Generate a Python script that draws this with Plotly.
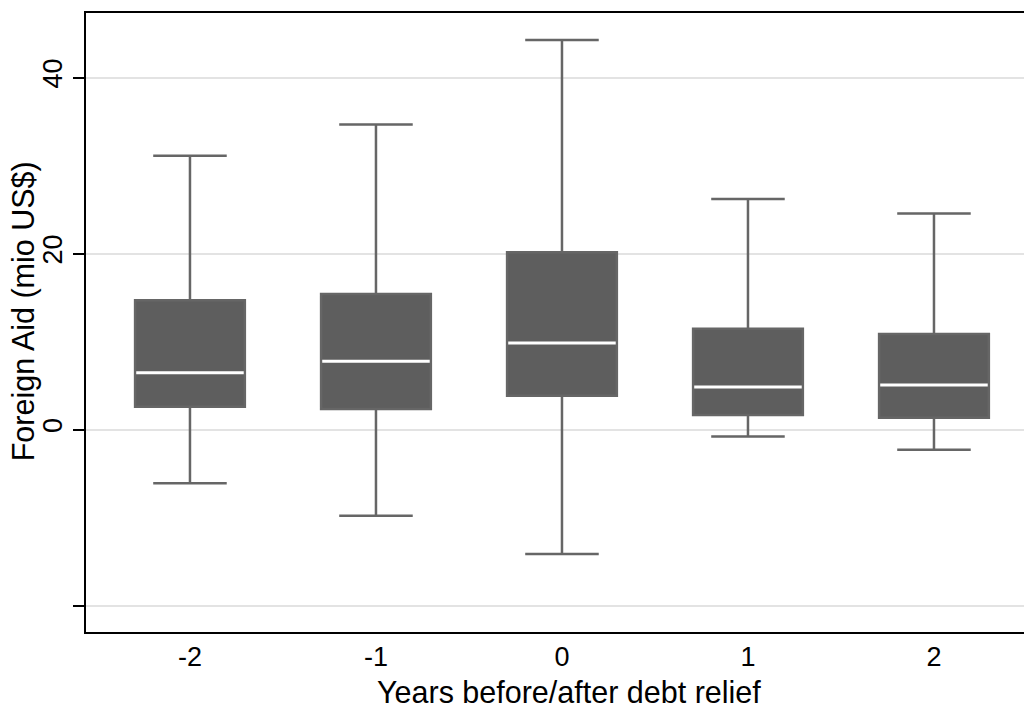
import plotly.graph_objects as go

# Foreign aid distribution around the debt relief year
years = [-2, -1, 0, 1, 2]
lower_whisker = [-6.1, -9.8, -14.15, -0.8, -2.3]
q1 = [2.6, 2.35, 3.85, 1.65, 1.35]
median = [6.45, 7.75, 9.85, 4.85, 5.05]
q3 = [14.7, 15.4, 20.15, 11.45, 10.85]
upper_whisker = [31.1, 34.65, 44.25, 26.2, 24.55]

y_ticks = [-20, 0, 20, 40]
y_tick_labels = ["", "0", "20", "40"]

x_title = "Years before/after debt relief"
y_title = "Foreign Aid (mio US$)"

FONT = "Liberation Sans, Arial, Helvetica, sans-serif"
BOX_W = 0.59

fig = go.Figure()

# Boxes with whiskers
fig.add_trace(go.Box(
    x=years, q1=q1, median=median, q3=q3,
    lowerfence=lower_whisker, upperfence=upper_whisker,
    width=BOX_W, whiskerwidth=0.67,
    fillcolor="#5e5e5e",
    line=dict(color="#666666", width=2.5),
    boxpoints=False, hoverinfo="skip", showlegend=False,
))

# White median bars drawn on top of each box
fig.add_trace(go.Box(
    x=years, q1=median, median=median, q3=median,
    lowerfence=median, upperfence=median,
    width=BOX_W - 0.012, whiskerwidth=0,
    fillcolor="white",
    line=dict(color="white", width=3),
    boxpoints=False, hoverinfo="skip", showlegend=False,
))

# Axis titles placed as annotations relative to the plot area
fig.add_annotation(text=x_title, xref="paper", yref="paper",
                   x=0.515, y=-0.097, xanchor="center", yanchor="middle",
                   showarrow=False, font=dict(size=30.5))
fig.add_annotation(text=y_title, xref="paper", yref="paper",
                   x=-0.0672, y=0.518, xanchor="center", yanchor="middle",
                   textangle=-90, showarrow=False, font=dict(size=30.5))

fig.update_layout(
    width=1024, height=708,
    margin=dict(l=86, r=0, t=13, b=76),
    paper_bgcolor="white", plot_bgcolor="white",
    boxmode="overlay",
    font=dict(family=FONT, size=26, color="black"),
    xaxis=dict(
        range=[-2.559, 2.484],
        tickmode="array", tickvals=years, ticktext=[str(v) for v in years],
        ticks="", showgrid=False, zeroline=False,
        showline=True, linecolor="black", linewidth=2, mirror=True,
        ticklabelstandoff=0,
        tickfont=dict(size=27),
    ),
    yaxis=dict(
        range=[-23.0, 47.33],
        tickmode="array", tickvals=y_ticks, ticktext=y_tick_labels,
        ticks="outside", ticklen=11, tickwidth=2, tickcolor="black",
        tickangle=-90,
        showgrid=True, gridcolor="#e3e3e3", gridwidth=2,
        zeroline=False,
        showline=True, linecolor="black", linewidth=2, mirror=False,
        tickfont=dict(size=27),
    ),
)

fig.write_html("out.html")
